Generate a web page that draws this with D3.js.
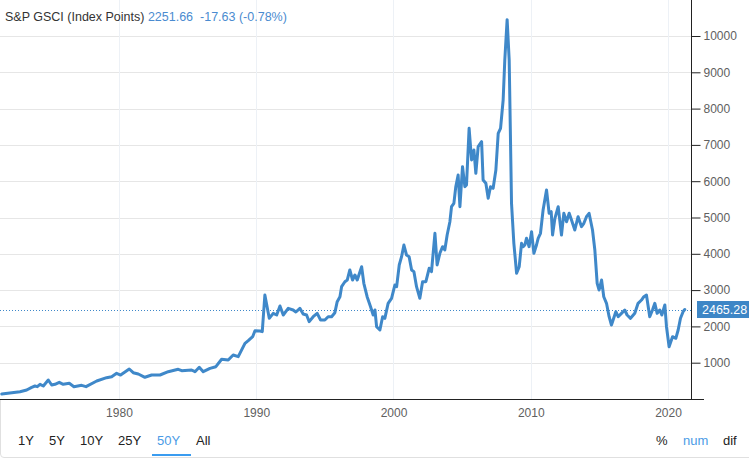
<!DOCTYPE html>
<html><head><meta charset="utf-8">
<script src="https://cdn.jsdelivr.net/npm/d3@7"></script>
<style>
body{margin:0;background:#fff;font-family:"Liberation Sans",Arial,sans-serif;}
svg{display:block}
</style></head>
<body><svg id="c" width="749" height="458"></svg>
<script>
const years = [1971.46,1972.79,1973.28,1973.64,1973.88,1974.05,1974.25,1974.49,1974.85,1975.10,1975.34,1975.65,1975.94,1976.38,1976.72,1977.28,1977.60,1978.38,1979.10,1979.47,1979.83,1980.12,1980.75,1981.04,1981.41,1981.89,1982.38,1982.99,1983.59,1984.32,1984.57,1985.29,1985.54,1985.85,1986.14,1986.63,1987.06,1987.48,1987.96,1988.32,1988.69,1989.18,1989.42,1989.74,1989.91,1990.27,1990.44,1990.63,1990.95,1991.24,1991.49,1991.73,1991.97,1992.33,1992.69,1992.89,1993.18,1993.42,1993.67,1993.86,1994.15,1994.44,1994.69,1995.00,1995.24,1995.49,1995.73,1995.90,1996.10,1996.22,1996.46,1996.63,1996.82,1997.02,1997.19,1997.36,1997.68,1997.84,1998.08,1998.33,1998.52,1998.65,1998.77,1999.01,1999.21,1999.37,1999.61,1999.86,2000.10,2000.23,2000.42,2000.59,2000.76,2000.95,2001.14,2001.32,2001.49,2001.68,2001.92,2002.12,2002.36,2002.60,2002.77,2003.02,2003.18,2003.38,2003.58,2003.74,2003.91,2004.11,2004.23,2004.40,2004.54,2004.71,2004.84,2005.03,2005.20,2005.32,2005.51,2005.69,2005.86,2006.00,2006.17,2006.42,2006.53,2006.73,2006.90,2007.07,2007.26,2007.46,2007.63,2007.80,2007.99,2008.11,2008.28,2008.43,2008.60,2008.77,2008.97,2009.16,2009.33,2009.45,2009.57,2009.69,2009.88,2010.06,2010.23,2010.42,2010.54,2010.71,2010.90,2011.15,2011.34,2011.49,2011.59,2011.76,2012.00,2012.24,2012.41,2012.61,2012.80,2012.97,2013.21,2013.45,2013.70,2013.87,2014.06,2014.25,2014.50,2014.67,2014.84,2014.98,2015.16,2015.32,2015.52,2015.71,2015.88,2016.20,2016.37,2016.61,2016.85,2017.02,2017.27,2017.58,2017.82,2018.07,2018.24,2018.43,2018.67,2018.87,2019.04,2019.21,2019.40,2019.55,2019.77,2019.89,2020.08,2020.33,2020.57,2020.74,2020.91,2021.10,2021.22];
const values = [138,200,248,322,358,340,405,358,523,385,405,460,405,432,340,377,340,496,587,614,708,661,826,725,689,598,661,661,752,818,780,799,752,873,752,845,890,1094,1074,1212,1166,1534,1607,1717,1882,1873,1855,2865,2223,2360,2314,2562,2314,2498,2452,2397,2498,2342,2314,2130,2267,2360,2176,2176,2267,2267,2378,2681,2818,3094,3231,3278,3554,3278,3416,3278,3645,3187,2818,2543,2314,2452,1992,1901,2267,2223,2636,2774,3140,3094,3691,3920,4242,3967,3920,3554,3508,3094,2774,3231,3231,3600,3508,4565,3691,4014,4196,4105,4518,4884,5298,5391,5849,6171,5298,6400,5849,5895,7457,6584,6860,6217,6951,7089,6033,5942,5529,5849,5804,6309,7319,7457,8237,9339,10450,9339,5391,4289,3463,3645,4289,4196,4242,4427,4196,4609,4014,4242,4427,4565,5207,5758,5116,5160,4518,4978,5298,4518,5116,4884,5116,4931,4656,5022,4747,4840,5022,5116,4656,4105,3187,3003,3278,2818,2636,2267,2039,2405,2267,2360,2452,2314,2223,2360,2636,2727,2818,2865,2267,2452,2636,2360,2452,2314,2590,1992,1441,1717,1672,1901,2223,2405,2465.28];
const yTicks = [1000,2000,3000,4000,5000,6000,7000,8000,9000,10000];
const xTicks = [1980,1990,2000,2010,2020];
const titleName = "S&P GSCI (Index Points)";
const titleVals = "2251.66  -17.63 (-0.78%)";
const lastValue = 2465.28;
const ranges = ["1Y","5Y","10Y","25Y","50Y","All"];
const modes = ["%","num","dif"];

const data = years.map((y,i)=>({year:y,value:values[i]}));
const svg = d3.select("#c");
const W = 749, plotR = 691, plotB = 399;
const x = d3.scaleLinear().domain([1970,2020]).range([-18.3,668]);
const y = d3.scaleLinear().domain([0,10000]).range([plotB,36]);
const blue = "#3f88c9";

// horizontal grid
svg.append("g").selectAll("line").data(yTicks).join("line")
  .attr("x1",0).attr("x2",plotR).attr("y1",d=>Math.round(y(d))+0.5).attr("y2",d=>Math.round(y(d))+0.5)
  .attr("stroke","#e6e6e6").attr("stroke-width",1);
// vertical grid
svg.append("g").selectAll("line").data(xTicks).join("line")
  .attr("x1",d=>Math.round(x(d))+0.5).attr("x2",d=>Math.round(x(d))+0.5).attr("y1",0).attr("y2",plotB)
  .attr("stroke","#edf1f6").attr("stroke-width",1);

// last value dotted line
svg.append("line").attr("x1",0).attr("x2",plotR).attr("y1",Math.round(y(lastValue))+0.5).attr("y2",Math.round(y(lastValue))+0.5)
  .attr("stroke",blue).attr("stroke-width",1).attr("stroke-dasharray","1,2");

// line
svg.append("path").datum(data)
  .attr("d",d3.line().x(d=>x(d.year)).y(d=>y(d.value)))
  .attr("fill","none").attr("stroke",blue).attr("stroke-width",3)
  .attr("stroke-linejoin","round").attr("stroke-linecap","round");

// right axis
const ya = svg.append("g").attr("transform",`translate(${plotR+0.5},0)`)
  .call(d3.axisRight(y).tickValues(yTicks).tickFormat(d3.format("d")).tickSize(9).tickPadding(3).tickSizeOuter(0));
ya.select(".domain").remove();
ya.selectAll(".tick line").attr("stroke","#222");
ya.selectAll("text").attr("fill","#606060").attr("font-size","12px").attr("font-family","'Liberation Sans',Arial,sans-serif");
svg.append("line").attr("x1",plotR+0.5).attr("x2",plotR+0.5).attr("y1",0).attr("y2",plotB+1).attr("stroke","#222");

// bottom axis
const xa = svg.append("g").attr("transform",`translate(0,${plotB+0.5})`)
  .call(d3.axisBottom(x).tickValues(xTicks).tickFormat(d3.format("d")).tickSize(0).tickPadding(9));
xa.select(".domain").remove();
xa.selectAll("text").attr("fill","#606060").attr("font-size","12px").attr("font-family","'Liberation Sans',Arial,sans-serif");
svg.append("line").attr("x1",0).attr("x2",704).attr("y1",plotB+0.5).attr("y2",plotB+0.5).attr("stroke","#222");

// last value label
const lb = svg.append("g");
lb.append("rect").attr("x",697).attr("y",y(lastValue)-8.5).attr("width",52).attr("height",17).attr("fill","#3d86c6");
lb.append("text").attr("x",702).attr("y",y(lastValue)+4.5).attr("fill","#fff").attr("font-size","12.5px").text(d3.format(".2f")(lastValue));

// title
const t = svg.append("text").attr("x",5).attr("y",21).attr("font-size","12.5px");
t.append("tspan").attr("fill","#333").text(titleName+" ");
t.append("tspan").attr("fill","#4a8bd0").attr("xml:space","preserve").style("white-space","pre").text(titleVals);

// range buttons
const bx = [18,49,80,118,157,196];
ranges.forEach((r,i)=>{
  svg.append("text").attr("x",bx[i]).attr("y",444.5).attr("font-size","13px")
    .attr("fill", r==="50Y" ? "#4a9be6" : "#222").text(r);
});
svg.append("rect").attr("x",152).attr("y",454).attr("width",39).attr("height",2).attr("fill","#3a9cf0");
const mx = [656,683,723];
modes.forEach((m,i)=>{
  svg.append("text").attr("x",mx[i]).attr("y",444.5).attr("font-size","13px")
    .attr("fill", m==="num" ? "#4a9be6" : "#222").text(m);
});
// frame
svg.append("path").attr("d","M0.5,400 L0.5,454 Q0.5,457.5 4,457.5 L749,457.5").attr("fill","none").attr("stroke","#e0e0e0");
</script></body></html>
